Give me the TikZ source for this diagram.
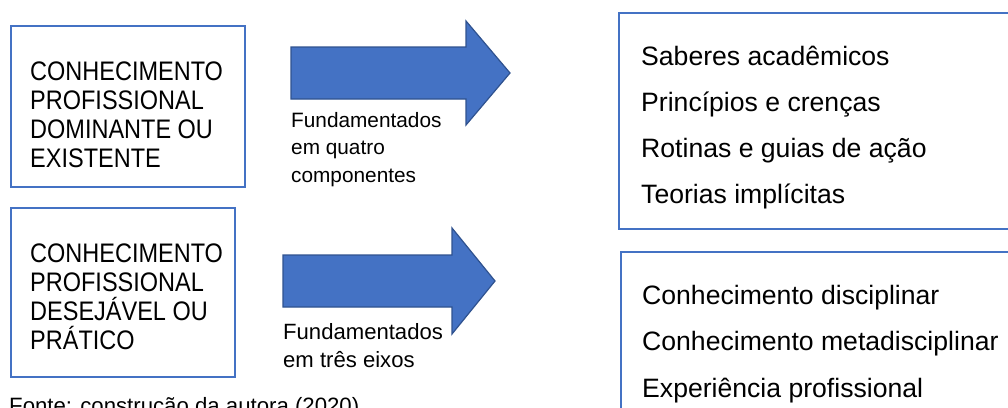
\documentclass[tikz,border=0pt]{standalone}
\usepackage{fontspec}
\setmainfont{Liberation Sans}
\definecolor{azul}{HTML}{4472C4}
\definecolor{azulesc}{HTML}{2F528F}
\tikzset{
  caixa/.style={draw=azul,line width=2pt},
  seta/.style={fill=azul,draw=azulesc,line width=1.2pt,line join=miter},
  titulo/.style={anchor=base west,inner sep=0pt,font=\fontsize{23.5}{29}\selectfont},
  item/.style={anchor=base west,inner sep=0pt,font=\fontsize{26.6}{32}\selectfont},
}

\begin{document}
\begin{tikzpicture}[x=1pt,y=-1pt]
\useasboundingbox (0,0) rectangle (1008,407);
% caixas da esquerda
\draw[caixa] (11,26) rectangle (245,187);
\draw[caixa] (11,208) rectangle (235,377);
\foreach \t [count=\i] in {CONHECIMENTO,PROFISSIONAL,DOMINANTE OU,EXISTENTE}
  \node[titulo] (dom\i) at (30,50.7+29.3*\i) {\scalebox{1}[1.14]{\t}};
\foreach \t [count=\i] in {CONHECIMENTO,PROFISSIONAL,DESEJ\'AVEL OU,PR\'ATICO}
  \node[titulo] (des\i) at (30,232.7+29.3*\i) {\scalebox{1}[1.14]{\t}};
% setas
\draw[seta] (291,47) -- (466,47) -- (466,21) -- (510,73) -- (466,125) -- (466,99) -- (291,99) -- cycle;
\draw[seta] (283,255) -- (452,255) -- (452,228) -- (495,281) -- (452,334) -- (452,307) -- (283,307) -- cycle;
\foreach \t [count=\i] in {Fundamentados,em quatro,componentes}
  \node[anchor=base west,inner sep=0pt,font=\fontsize{20.8}{27}\selectfont] (comp\i) at (291,99.5+27.5*\i) {\t};
\foreach \t [count=\i] in {Fundamentados,em três eixos}
  \node[anchor=base west,inner sep=0pt,font=\fontsize{22.1}{28}\selectfont] (eixo\i) at (283,311+28*\i) {\t};
% caixas da direita
\draw[caixa] (619,13) rectangle (1020,229);
\draw[caixa] (621,252) rectangle (1020,420);
\foreach \t [count=\i] in {Saberes acadêmicos,Princípios e crenças,Rotinas e guias de ação,Teorias implícitas}
  \node[item] (sab\i) at (641,18.7+46.3*\i) {\t};
\foreach \t [count=\i] in {Conhecimento disciplinar,Conhecimento metadisciplinar,Experiência profissional}
  \node[item] (eix\i) at (642,257.3+46.7*\i) {\t};
\node[anchor=base west,inner sep=0pt,font=\fontsize{22.2}{27}\selectfont] (fonte) at (9,413) {Fonte: construção da autora (2020)};
\end{tikzpicture}
\end{document}
